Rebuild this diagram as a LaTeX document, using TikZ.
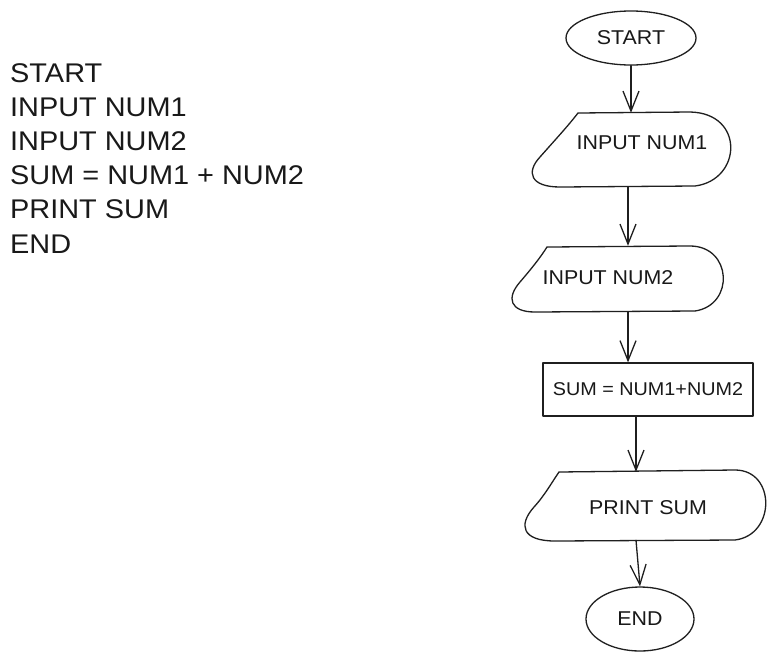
\documentclass[tikz,border=0pt]{standalone}
\usepackage{fontspec}
\setmainfont[FakeStretch=1.07]{Liberation Sans}
\usetikzlibrary{shapes.geometric,arrows.meta}
\begin{document}
\begin{tikzpicture}[x=1pt,y=-1pt,
  ink/.style={draw=black!88, line width=1.3pt, line join=round, line cap=round},
  arr/.style={ink, -{Straight Barb[length=20pt,width=16pt]}},
  lbl/.style={font=\fontsize{20}{24}\selectfont, text=black!90, inner sep=0pt},
  codeline/.style={font=\fontsize{27}{34}\selectfont, text=black!90, anchor=base west, inner sep=0pt},
  hold/.style={draw=none, inner sep=0pt, rectangle}]
\useasboundingbox[fill=white] (0,0) rectangle (779,662);

% pseudo code
\node[codeline] (l1) at (10,82) {START};
\node[codeline] (l2) at (10,116.2) {INPUT NUM1};
\node[codeline] (l3) at (10,150.4) {INPUT NUM2};
\node[codeline] (l4) at (10,184.6) {SUM = NUM1 + NUM2};
\node[codeline] (l5) at (10,218.8) {PRINT SUM};
\node[codeline] (l6) at (10,253) {END};

% terminals
\node[ink, ellipse, minimum width=130pt, minimum height=54pt, inner sep=0pt, lbl] (start) at (631,38) {START};
\node[ink, ellipse, minimum width=108pt, minimum height=64pt, inner sep=0pt, lbl] (end) at (640,619) {END};

% data shapes
\draw[ink] (578,113) -- (690,112) .. controls (745,113) and (742,180) .. (695,186) -- (560,187)
  .. controls (530,187) and (526,172) .. (540,157) .. controls (555,140) and (568,126) .. cycle;
\node[hold, minimum width=150pt, minimum height=74pt] (in1) at (628,150) {};
\node[lbl] (in1t) at (642,143) {INPUT NUM1};

\draw[ink] (547,247) -- (690,246) .. controls (732,246) and (735,305) .. (695,311) -- (535,312)
  .. controls (510,312) and (506,298) .. (520,282) .. controls (532,268) and (540,258) .. cycle;
\node[hold, minimum width=150pt, minimum height=66pt] (in2) at (628,279) {};
\node[lbl] (in2t) at (608,278) {INPUT NUM2};

\node[ink, rectangle, minimum width=210pt, minimum height=53pt, inner sep=0pt, lbl, font=\fontsize{18.5}{22}\selectfont] (sum) at (648,389.5) {SUM = NUM1+NUM2};

\draw[ink] (559,472) -- (735,470) .. controls (776,470) and (776,535) .. (735,540) -- (555,541)
  .. controls (522,541) and (518,525) .. (534,507) .. controls (545,495) and (552,482) .. cycle;
\node[hold, minimum width=150pt, minimum height=68pt] (print) at (636,506) {};
\node[lbl] (printt) at (648,508) {PRINT SUM};

% connectors
\draw[arr] (start.south) -- (start.south |- in1.north);
\draw[arr] (in1.south) -- (in2.north);
\draw[arr] (in2.south) -- (in2.south |- sum.north);
\draw[arr] (sum.south -| print.north) -- (print.north);
\draw[arr] (print.south) -- (end.north);
\end{tikzpicture}
\end{document}
